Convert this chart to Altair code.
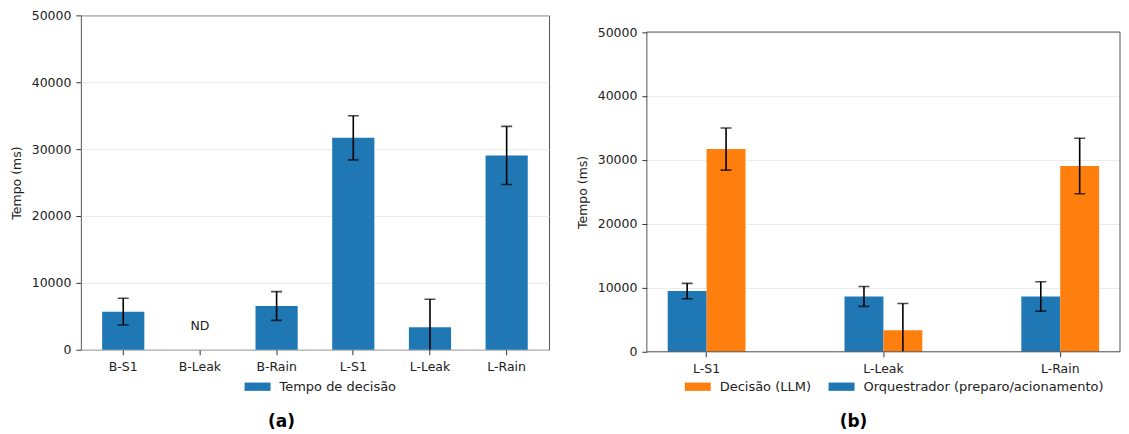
import altair as alt
import pandas as pd

# ---- data ----
cats_a = ["B-S1", "B-Leak", "B-Rain", "L-S1", "L-Leak", "L-Rain"]
dec_a = [5700, None, 6550, 31700, 3350, 29050]
err_a = [2000, None, 2150, 3300, 4200, 4350]

cats_b = ["L-S1", "L-Leak", "L-Rain"]
orq_b = [9500, 8650, 8650]
orq_err = [1200, 1550, 2300]
llm_b = [31700, 3350, 29050]
llm_err = [3300, 4200, 4350]

lab_a = "Tempo de decisão"
lab_llm = "Decisão (LLM)"
lab_orq = "Orquestrador (preparo/acionamento)"
y_ticks = [0, 10000, 20000, 30000, 40000, 50000]

BLUE = "#1f77b4"
ORANGE = "#ff7f0e"
FRAME = "#555555"
FS = 12.5
TXT = "#222222"

rows_a = [
    {"cat": c, "serie": lab_a, "val": v, "lo": v - e, "hi": v + e}
    for c, v, e in zip(cats_a, dec_a, err_a) if v is not None
]
df_a = pd.DataFrame(rows_a)

rows_b = []
for c, v, e in zip(cats_b, orq_b, orq_err):
    rows_b.append({"cat": c, "serie": lab_orq, "val": v, "lo": v - e, "hi": v + e})
for c, v, e in zip(cats_b, llm_b, llm_err):
    rows_b.append({"cat": c, "serie": lab_llm, "val": v, "lo": v - e, "hi": v + e})
df_b = pd.DataFrame(rows_b)

WA = 469
HA = 335          # plot height of panel (a)
HB = 337          # view height of panel (b) (its frame starts lower)
TOPB = 16.7       # where 50000 sits inside panel (b)
WB = 474


def yaxis():
    return alt.Axis(values=y_ticks, format="d", grid=True, gridColor="#e5e5e5",
                    gridWidth=0.8, domain=False, tickColor="#333", tickSize=5,
                    labelFontSize=FS, labelColor=TXT, labelPadding=5,
                    title="Tempo (ms)", titleFontSize=FS, titleFontWeight="normal",
                    titleColor=TXT, titlePadding=8)


def xaxis():
    return alt.Axis(title=None, labelAngle=0, domain=False, tickColor="#333",
                    tickSize=5, labelFontSize=FS, labelColor=TXT, labelPadding=6,
                    grid=False)


def legend(x, y, horizontal=False):
    kw = dict(title=None, orient="none", legendX=x, legendY=y,
              symbolType="M-1,-0.32H1V0.32H-1Z", symbolSize=676,
              symbolStrokeWidth=0, labelFontSize=13, labelOffset=9,
              labelColor=TXT, labelLimit=400, padding=0)
    if horizontal:
        kw.update(direction="horizontal", columnPadding=17)
    return alt.Legend(**kw)


# ---- panel (a) ----
ya_scale = alt.Scale(domain=[0, 50000], nice=False)
xa = alt.X("cat:N", scale=alt.Scale(domain=cats_a, paddingInner=0.45, paddingOuter=0.2775),
           axis=xaxis())
base_a = alt.Chart(df_a)
bars_a = base_a.mark_bar().encode(
    x=xa,
    y=alt.Y("val:Q", scale=ya_scale, axis=yaxis()),
    color=alt.Color("serie:N", scale=alt.Scale(domain=[lab_a], range=[BLUE]),
                    legend=legend(164, 359)),
)
err_rule_a = base_a.mark_rule(color="black", strokeWidth=1.6, clip=True).encode(
    x=alt.X("cat:N"), y=alt.Y("lo:Q"), y2="hi:Q")
cap_hi_a = base_a.mark_tick(color="black", size=11, thickness=1.6, clip=True).encode(
    x=alt.X("cat:N"), y=alt.Y("hi:Q"))
cap_lo_a = base_a.mark_tick(color="black", size=11, thickness=1.6, clip=True).encode(
    x=alt.X("cat:N"), y=alt.Y("lo:Q"))
nd_a = alt.Chart(pd.DataFrame({"cat": ["B-Leak"], "y": [3600], "t": ["ND"]})).mark_text(
    fontSize=FS, color=TXT, baseline="middle").encode(x=alt.X("cat:N"), y=alt.Y("y:Q"), text="t:N")
cap_a = alt.Chart(pd.DataFrame({"t": ["(a)"]})).mark_text(
    fontSize=17, fontWeight="bold", color="black", baseline="middle").encode(
    x=alt.value(201), y=alt.value(407), text="t:N")

panel_a = alt.layer(bars_a, err_rule_a, cap_hi_a, cap_lo_a, nd_a, cap_a).properties(
    width=WA, height=HA)

# ---- panel (b) ----
yb_scale = alt.Scale(domain=[0, 50000], nice=False, range=[HB, TOPB])
xb = alt.X("cat:N", scale=alt.Scale(domain=cats_b, paddingInner=0.56, paddingOuter=0.118),
           axis=xaxis())
xoff = alt.XOffset("serie:N", scale=alt.Scale(domain=[lab_orq, lab_llm], paddingInner=0,
                                              paddingOuter=0))
base_b = alt.Chart(df_b)
bars_b = base_b.mark_bar().encode(
    x=xb, xOffset=xoff,
    y=alt.Y("val:Q", scale=yb_scale, axis=yaxis()),
    color=alt.Color("serie:N", scale=alt.Scale(domain=[lab_llm, lab_orq], range=[ORANGE, BLUE]),
                    legend=legend(38, 359, horizontal=True)),
)
err_rule_b = base_b.mark_rule(color="black", strokeWidth=1.6, clip=True).encode(
    x=alt.X("cat:N"), xOffset=xoff, y=alt.Y("lo:Q"), y2="hi:Q")
cap_hi_b = base_b.mark_tick(color="black", size=11, thickness=1.6, clip=True).encode(
    x=alt.X("cat:N"), xOffset=xoff, y=alt.Y("hi:Q"))
cap_lo_b = base_b.mark_tick(color="black", size=11, thickness=1.6, clip=True).encode(
    x=alt.X("cat:N"), xOffset=xoff, y=alt.Y("lo:Q"))
cap_b = alt.Chart(pd.DataFrame({"t": ["(b)"]})).mark_text(
    fontSize=17, fontWeight="bold", color="black", baseline="middle").encode(
    x=alt.value(207), y=alt.value(407), text="t:N")

# frame of panel (b), drawn on the data range 0..50000
frame_src = alt.Chart(pd.DataFrame({"k": [0]}))
spine_top = frame_src.mark_rule(color=FRAME, strokeWidth=1).encode(
    y=alt.datum(50000), x=alt.value(0), x2=alt.value(WB))
spine_bot = frame_src.mark_rule(color=FRAME, strokeWidth=1).encode(
    y=alt.datum(0), x=alt.value(0), x2=alt.value(WB))
spine_left = frame_src.mark_rule(color=FRAME, strokeWidth=1).encode(
    x=alt.value(0), y=alt.datum(0), y2=alt.datum(50000))
spine_right = frame_src.mark_rule(color=FRAME, strokeWidth=1).encode(
    x=alt.value(WB), y=alt.datum(0), y2=alt.datum(50000))

panel_b = alt.layer(bars_b, err_rule_b, cap_hi_b, cap_lo_b, cap_b,
                    spine_top, spine_bot, spine_left, spine_right).properties(
    width=WB, height=HB, view=alt.ViewBackground(strokeOpacity=0))

chart = alt.hconcat(panel_a, panel_b, spacing=26).resolve_scale(
    color="independent", x="independent", xOffset="independent", y="independent"
).properties(
    padding={"left": 1, "top": 0, "right": 0, "bottom": 0}
).configure(font="DejaVu Sans").configure_view(stroke=FRAME, strokeWidth=1)

chart.save("out.html", embed_options={"renderer": "svg", "actions": False})
